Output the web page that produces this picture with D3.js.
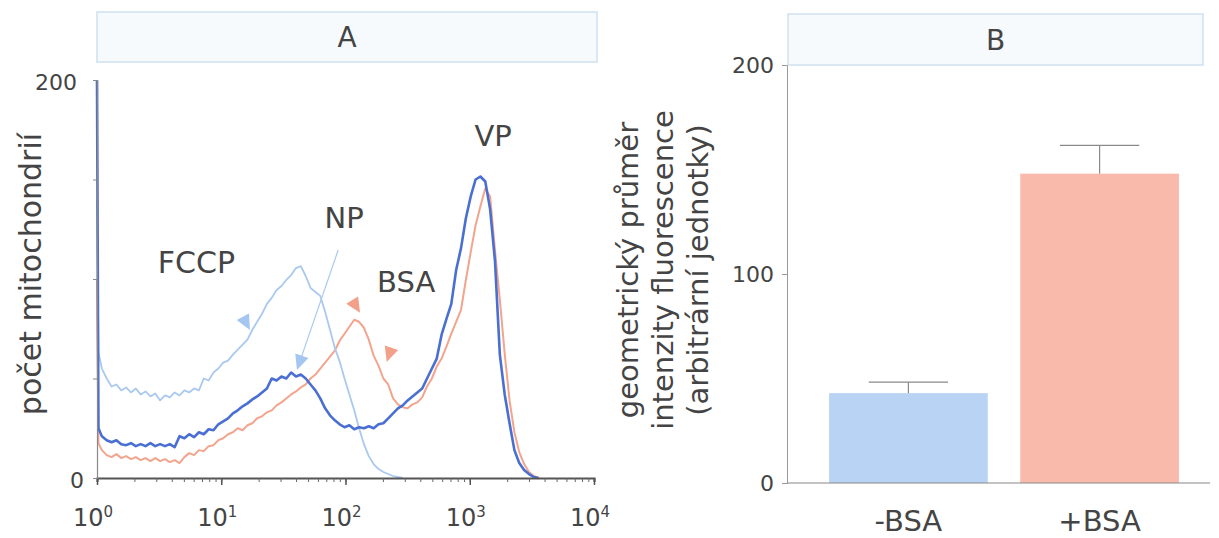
<!DOCTYPE html>
<html>
<head>
<meta charset="utf-8">
<script src="https://cdn.jsdelivr.net/npm/d3@7"></script>
<style>
  body { margin: 0; background: #fff; }
  text { font-family: "DejaVu Sans", Verdana, sans-serif; fill: #444; }
</style>
</head>
<body>
<script>
const width = 1219;
const height = 538;

// ---- panel A : flow histogram, 256 channels per decade ----
const channels = [0, 3, 10, 20, 30, 40, 50, 60, 70, 80, 90, 100, 110, 120, 130, 140, 150, 160, 170, 180, 190,
  200, 210, 220, 230, 240, 250, 260, 270, 280, 290, 300, 310, 320, 330, 340, 350, 360, 370, 380, 390,
  400, 410, 420, 430, 440, 450, 460, 470, 480, 490, 500, 510, 520, 530, 540, 550, 560, 570, 580, 590,
  600, 610, 620, 630, 640, 650, 660, 670, 680, 690, 700, 710, 720, 730, 740, 750, 760, 770, 780, 790,
  800, 810, 820, 830, 840, 850, 860, 870, 880, 890, 900, 910];

const countControl = [200, 25, 21, 19, 18, 19, 17, 16.5, 17.5, 16, 17, 16, 17.5, 16, 17, 16, 17, 15.5, 21, 20, 22,
  20.5, 23, 22, 24.5, 24, 27, 28.5, 30, 32.5, 34, 36, 37.5, 39.5, 41, 43, 45, 50, 49, 51, 50,
  53, 51, 52, 50, 47, 44, 40, 35, 31.5, 29, 27, 25.5, 26.5, 24.5, 25.5, 25, 26, 25, 27, 27.5,
  30, 32.5, 35, 36.5, 39, 41, 43, 45, 50, 55, 60, 72, 80, 87.5, 104.5, 115.5, 130.5, 141.5, 150, 151.5,
  149, 135, 109, 62, 42, 27.5, 14, 7.5, 4, 2, 0.5, 0];

const countBsa = [100, 17.5, 14, 11.5, 10.5, 12, 10, 11, 9.5, 10.5, 9, 10, 8.5, 10, 8.5, 9.5, 8, 9, 7.5, 10.5, 12.5,
  11.5, 14, 13.5, 16, 16.5, 19, 20, 22, 23, 25, 24, 26.5, 27.5, 30, 31, 33, 34, 36.5, 38, 40,
  42, 43.5, 45.5, 47, 50, 52, 55, 58, 61, 64, 69, 72.5, 76, 79.5, 78.5, 75.5, 69.5, 61.5, 56.5, 50,
  47, 40, 37, 35.5, 35, 37, 38, 40.5, 46, 50, 56, 60, 66, 72.5, 78.5, 84.5, 99.5, 113.5, 127, 136.5,
  145.5, 141.5, 114.5, 89.5, 62.5, 39, 23, 13, 7, 3, 1, 0];

const countFccp = [140, 63, 55, 50, 46, 47, 44, 45.5, 43, 45, 42, 43.5, 41, 42.5, 39, 41.5, 40.5, 43, 41.5, 44, 43,
  45, 44, 50, 49, 53, 55, 58, 59, 62, 64.5, 67, 69.5, 74.5, 78.5, 82.5, 87.5, 90.5, 94.5, 96.5, 99.5,
  102, 105.5, 106.5, 101.5, 95.5, 93.5, 91.5, 83.5, 74.5, 65.5, 58.5, 50, 42, 34, 25, 17, 11, 7, 4.5, 3,
  2, 1, 0.5, 0];

const decades = [0, 1, 2, 3, 4];
const yTicksA = [0, 50, 100, 150, 200];
const yLabelsA = [0, 200];

const curveLabels = ["FCCP", "NP", "BSA", "VP"];
const labelChannel = [205, 509, 637, 816];
const labelCount = [108.5, 130.6, 98.5, 172];

// arrowheads: tip channel, tip count, direction (deg), series
const arrowChannel = [315, 412, 542, 597];
const arrowCount = [74.4, 54.3, 83, 58.3];
const arrowAngle = [62, 109, 58, 108];
const arrowSeries = ["fccp", "fccp", "bsa", "bsa"];
const npLine = { from: [497, 114.6], to: [420, 60] };

// ---- panel B : geometric mean fluorescence ----
const groups = ["-BSA", "+BSA"];
const means = [43, 148];
const errors = [5.3, 13.5];
const yTicksB = [0, 100, 200];

const colors = {
  control: "#4a6fd3",
  bsa: "#f3a48d",
  fccp: "#a9c9ef",
  barMinus: "#b9d3f4",
  barPlus: "#f9b9ab"
};

const svg = d3.select("body").append("svg")
  .attr("width", width)
  .attr("height", height);

// header boxes
function header(x0, x1, y0, y1, label) {
  svg.append("rect")
    .attr("x", x0).attr("y", y0)
    .attr("width", x1 - x0).attr("height", y1 - y0)
    .attr("fill", "#f6fafd")
    .attr("stroke", "#cfe1ef")
    .attr("stroke-width", 1.5);
  svg.append("text")
    .attr("x", (x0 + x1) / 2)
    .attr("y", (y0 + y1) / 2 + 10)
    .attr("text-anchor", "middle")
    .style("font-size", "28px")
    .text(label);
}
header(97, 597, 12, 62, "A");
header(788, 1203, 14, 65, "B");

// ================= panel A =================
const x = d3.scaleLog().domain([1, 1e4]).range([97, 594]);
const y = d3.scaleLinear().domain([0, 200]).range([478, 80]);
const chX = c => x(Math.pow(10, c / 256));

const line = d3.line()
  .x((d, i) => chX(channels[i]))
  .y(d => y(d));

svg.append("path").datum(countBsa)
  .attr("d", line).attr("fill", "none")
  .attr("stroke", colors.bsa).attr("stroke-width", 2).attr("stroke-linejoin", "round");
svg.append("path").datum(countFccp)
  .attr("d", line).attr("fill", "none")
  .attr("stroke", colors.fccp).attr("stroke-width", 1.8).attr("stroke-linejoin", "round");
svg.append("path").datum(countControl)
  .attr("d", line).attr("fill", "none")
  .attr("stroke", colors.control).attr("stroke-width", 2.6).attr("stroke-linejoin", "round");

// axes
const gx = svg.append("g").attr("transform", `translate(0,${y(0)})`);
gx.call(d3.axisBottom(x).tickValues(x.ticks()).tickSize(4).tickFormat(""));
gx.call(g => g.selectAll(".tick line").attr("stroke", "#666"));
const gxMajor = svg.append("g").attr("transform", `translate(0,${y(0)})`)
  .call(d3.axisBottom(x).tickValues(decades.map(d => Math.pow(10, d))).tickSize(7).tickFormat(""));
gxMajor.select(".domain").remove();
gxMajor.selectAll(".tick line").attr("stroke", "#555").attr("stroke-width", 1.5);
gx.select(".domain").attr("stroke", "#555").attr("stroke-width", 2.2);

const gy = svg.append("g").attr("transform", `translate(${x(1)},0)`)
  .call(d3.axisLeft(y).tickValues(yTicksA).tickSize(4).tickFormat(""));
gy.selectAll(".tick line").attr("stroke", "#888");
gy.select(".domain").attr("stroke", "#888").attr("stroke-width", 1.2);

// x tick labels 10^n
decades.forEach(d => {
  const t = svg.append("text")
    .attr("x", x(Math.pow(10, d)) - 4)
    .attr("y", 526)
    .attr("text-anchor", "middle")
    .style("font-size", "24px");
  t.append("tspan").text("10");
  t.append("tspan").attr("dy", -9).style("font-size", "15px").text(d);
});

yLabelsA.forEach(v => {
  svg.append("text")
    .attr("x", v === 0 ? 84 : 77)
    .attr("y", y(v) + 4)
    .attr("text-anchor", "end")
    .attr("dominant-baseline", "middle")
    .style("font-size", "22px")
    .text(v);
});

svg.append("text")
  .attr("transform", "translate(41,274) rotate(-90)")
  .attr("text-anchor", "middle")
  .style("font-size", "30px")
  .text("počet mitochondrií");

// NP pointer line
svg.append("line")
  .attr("x1", chX(npLine.from[0])).attr("y1", y(npLine.from[1]))
  .attr("x2", chX(npLine.to[0])).attr("y2", y(npLine.to[1]))
  .attr("stroke", colors.fccp).attr("stroke-width", 1.2);

// arrowheads
arrowChannel.forEach((c, i) => {
  svg.append("path")
    .attr("d", "M0,0 L-15,-7 L-15,7 Z")
    .attr("transform", `translate(${chX(c)},${y(arrowCount[i])}) rotate(${arrowAngle[i]})`)
    .attr("fill", arrowSeries[i] === "bsa" ? "#f2a08a" : "#a4c6f0");
});

curveLabels.forEach((t, i) => {
  svg.append("text")
    .attr("x", chX(labelChannel[i]))
    .attr("y", y(labelCount[i]))
    .attr("text-anchor", "middle")
    .attr("dominant-baseline", "central")
    .style("font-size", i === 0 ? "30px" : "29px")
    .text(t);
});

// ================= panel B =================
const xb = d3.scaleBand().domain(groups).range([787, 1221]).paddingInner(0.17).paddingOuter(0.22);
const yb = d3.scaleLinear().domain([0, 200]).range([483, 65]);

svg.selectAll(".bar")
  .data(groups)
  .enter().append("rect")
  .attr("class", "bar")
  .attr("x", d => xb(d))
  .attr("width", xb.bandwidth())
  .attr("y", (d, i) => yb(means[i]))
  .attr("height", (d, i) => yb(0) - yb(means[i]))
  .attr("fill", (d, i) => i === 0 ? colors.barMinus : colors.barPlus);

groups.forEach((g, i) => {
  const cx = xb(g) + xb.bandwidth() / 2;
  const capW = xb.bandwidth() * 0.5;
  svg.append("line")
    .attr("x1", cx).attr("x2", cx)
    .attr("y1", yb(means[i])).attr("y2", yb(means[i] + errors[i]))
    .attr("stroke", "#8a8a8a").attr("stroke-width", 1.2);
  svg.append("line")
    .attr("x1", cx - capW / 2).attr("x2", cx + capW / 2)
    .attr("y1", yb(means[i] + errors[i])).attr("y2", yb(means[i] + errors[i]))
    .attr("stroke", "#8a8a8a").attr("stroke-width", 1.2);
  svg.append("text")
    .attr("x", cx)
    .attr("y", 531)
    .attr("text-anchor", "middle")
    .style("font-size", "29px")
    .text(g);
});

const gyb = svg.append("g").attr("transform", "translate(787,0)")
  .call(d3.axisLeft(yb).tickValues(yTicksB).tickSize(5).tickPadding(8).tickFormat(d3.format("d")));
gyb.select(".domain").attr("stroke", "#999");
gyb.selectAll(".tick line").attr("stroke", "#999");
gyb.selectAll(".tick text").style("font-size", "22px").attr("fill", "#444")
  .style("font-family", "'DejaVu Sans', Verdana, sans-serif");

svg.append("line")
  .attr("x1", 787).attr("x2", 1210)
  .attr("y1", yb(0)).attr("y2", yb(0))
  .attr("stroke", "#888").attr("stroke-width", 1.2);

const yLabB = ["geometrický průměr", "intenzity fluorescence", "(arbitrární jednotky)"];
yLabB.forEach((t, i) => {
  svg.append("text")
    .attr("transform", `translate(${638 + i * 35},270) rotate(-90)`)
    .attr("text-anchor", "middle")
    .style("font-size", "29px")
    .text(t);
});
</script>
</body>
</html>
